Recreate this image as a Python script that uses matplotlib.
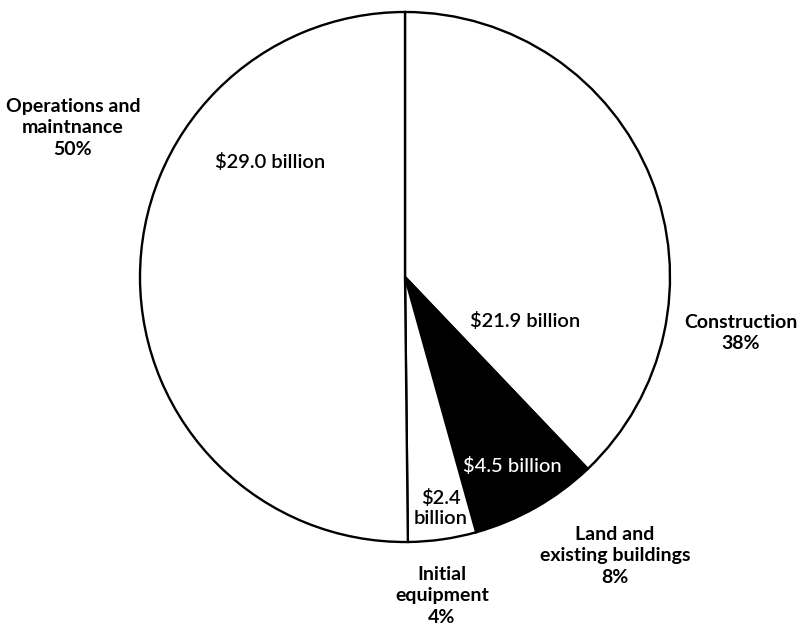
import matplotlib.pyplot as plt

# spending breakdown, billions of dollars
categories = ['Construction', 'Land and\nexisting buildings', 'Initial\nequipment', 'Operations and\nmaintnance']
values = [21.9, 4.5, 2.4, 29.0]
percents = ['38%', '8%', '4%', '50%']
amount_labels = ['$21.9 billion', '$4.5 billion', '$2.4\nbillion', '$29.0 billion']
fills = ['white', 'black', 'white', 'white']

plt.rcParams['font.family'] = ['Lato', 'DejaVu Sans']

fig = plt.figure(figsize=(7.99, 6.29), dpi=100)
ax = fig.add_axes([0, 0, 1, 1])

ax.pie(values, colors=fills, startangle=90, counterclock=False, radius=1,
       wedgeprops=dict(edgecolor='black', linewidth=1.7))

# pixel layout: centre at (405, 277), radius 265 px
cx, cy, r = 405, 277, 265
W, H = 799, 629
ax.set_xlim(-cx / r, (W - cx) / r)
ax.set_ylim(-(H - cy) / r, cy / r)
ax.set_aspect('auto')
ax.axis('off')


def px(x, y):
    return (x - cx) / r, (cy - y) / r


# amounts inside slices
inner_pos = [(525, 321), (512, 466), (441, 508), (270, 162)]
inner_col = ['black', 'white', 'black', 'black']
inner_wt = ['semibold', 'medium', 'semibold', 'semibold']
for lab, (x, y), c, wt in zip(amount_labels, inner_pos, inner_col, inner_wt):
    ax.text(*px(x, y), lab, ha='center', va='center', fontsize=14.5,
            color=c, fontweight=wt, linespacing=1.2)

# category labels outside
outer_pos = [(741, 333), (615, 556), (442, 596), (73, 128)]
for cat, pct, (x, y) in zip(categories, percents, outer_pos):
    ax.text(*px(x, y), cat + '\n' + pct, ha='center', va='center',
            fontsize=14, fontweight='bold', linespacing=1.35)

fig.savefig('out.png', dpi=100, facecolor='white')
